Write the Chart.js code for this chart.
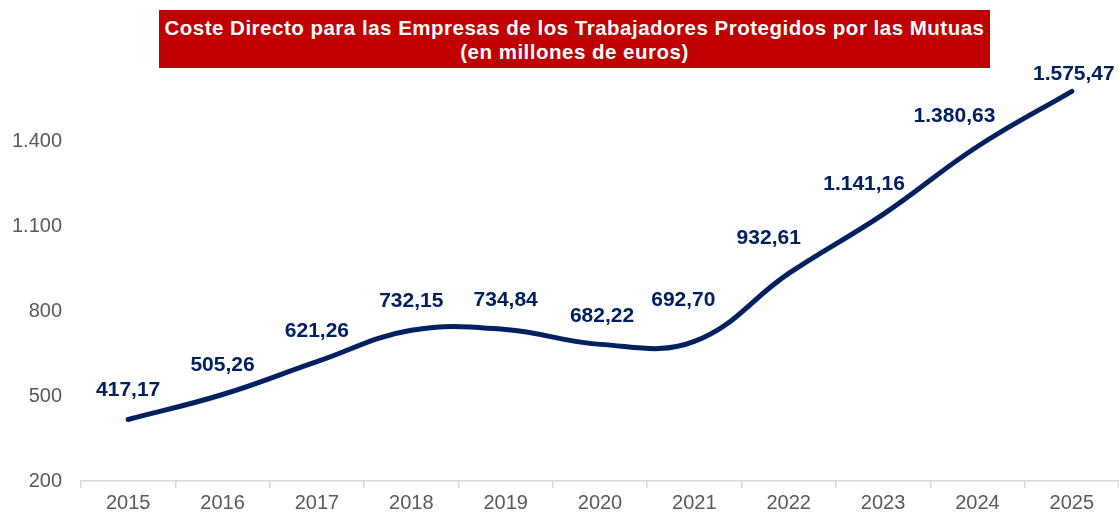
<!DOCTYPE html>
<html><head><meta charset="utf-8">
<script src="https://cdn.jsdelivr.net/npm/chart.js@4"></script>
<style>
html,body{margin:0;padding:0;background:#fff;}
#wrap{position:relative;width:1119px;height:517px;overflow:hidden;}
#c{position:absolute;left:0;top:0;}
#title{position:absolute;left:159px;top:10px;width:831px;height:58px;background:#C00000;color:#fff;font-family:"Liberation Sans",Arial,sans-serif;font-weight:bold;font-size:20.5px;text-align:center;line-height:24px;padding-top:6px;box-sizing:border-box;letter-spacing:0.5px;white-space:nowrap;}
</style></head><body>
<div id="wrap"><canvas id="c" width="1119" height="517"></canvas>
<div id="title">Coste Directo para las Empresas de los Trabajadores Protegidos por las Mutuas<br>(en millones de euros)</div></div>
<script>
const years = ['2015','2016','2017','2018','2019','2020','2021','2022','2023','2024','2025'];
const costs = [417.17,505.26,621.26,732.15,734.84,682.22,692.70,932.61,1141.16,1380.63,1575.47];
const yMin = 200, yMax = 1700, yStep = 300;
// label offsets (style only): [dx, dy] in pixels from the point
const labelShift = [[0,-29],[0,-29],[0,-30],[0,-29],[0,-29],[2,-28],[-11,-41],[-20,-35],[-19,-30],[-23,-30],[2,-17]];

function fmt(v, dec){
  const s = v.toFixed(dec);
  let parts = s.split('.');
  let i = parts[0].replace(/\B(?=(\d{3})+(?!\d))/g, '.');
  return parts[1] ? i + ',' + parts[1] : i;
}

const valueLabels = {
  id:'valueLabels',
  afterDatasetsDraw(chart){
    const ctx = chart.ctx;
    const meta = chart.getDatasetMeta(0);
    ctx.save();
    ctx.font = 'bold 21px "Liberation Sans", Arial, sans-serif';
    ctx.fillStyle = '#002060';
    ctx.textAlign = 'center';
    ctx.textBaseline = 'middle';
    meta.data.forEach((pt, i) => {
      const sh = labelShift[i];
      ctx.fillText(fmt(costs[i], 2), pt.x + sh[0], pt.y + sh[1]);
    });
    ctx.restore();
  }
};

new Chart(document.getElementById('c'), {
  type:'line',
  data:{labels:years, datasets:[{data:costs, borderColor:'#002060', borderWidth:5, tension:0.4, pointRadius:0, pointHoverRadius:0, fill:false, borderCapStyle:'round', borderJoinStyle:'round', clip:false}]},
  options:{
    responsive:false, animation:false, devicePixelRatio:1,
    layout:{padding:{left:10, top:56, right:0, bottom:0}},
    plugins:{legend:{display:false}, tooltip:{enabled:false}, title:{display:false}},
    scales:{
      x:{
        offset:true,
        grid:{offset:true, drawOnChartArea:false, drawTicks:true, tickLength:7, color:'#d9d9d9', lineWidth:1.5},
        border:{display:true, color:'#d9d9d9', width:1.5},
        ticks:{color:'#595959', font:{family:'"Liberation Sans", Arial, sans-serif', size:20}, padding:3, maxRotation:0, autoSkip:false},
        afterFit(s){ s.height = 36; }
      },
      y:{
        min:yMin, max:yMax,
        grid:{display:false, drawTicks:false},
        border:{display:false},
        ticks:{stepSize:yStep, color:'#595959', font:{family:'"Liberation Sans", Arial, sans-serif', size:20}, padding:19,
          callback:(v)=> v >= yMax ? '' : fmt(v, 0)},
        afterFit(s){ s.width = 71; }
      }
    }
  },
  plugins:[valueLabels]
});
</script>
</body></html>
